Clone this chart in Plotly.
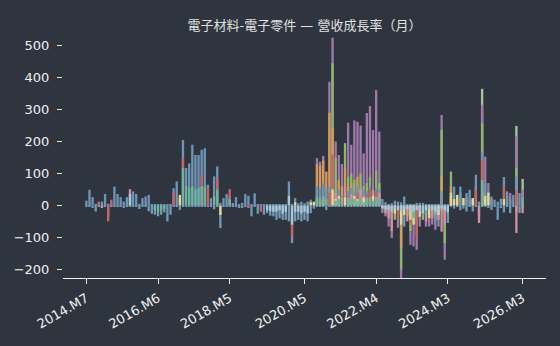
import plotly.graph_objects as go

# month categories 2014.M7 .. 2026.M3
months = []
y, m = 2014, 7
for _ in range(141):
    months.append(f"{y}.M{m}")
    m += 1
    if m > 12:
        m = 1
        y += 1

tick_labels = ["2014.M7", "2016.M6", "2018.M5", "2020.M5", "2022.M4", "2024.M3", "2026.M3"]
y_ticks = [-200, -100, 0, 100, 200, 300, 400, 500]

s_light = [
    0, 0, 0, 0, 0, 0, 0, 0, 0, 0,
    0, 0, 0, 0, 0, 0, 0, 0, 0, 0,
    0, 0, 0, 0, 0, 0, 0, 0, 0, 0,
    0, 0, 0, 0, 0, 0, 0, 0, 0, 0,
    0, 0, 0, 0, 0, 0, 0, 0, 0, 0,
    0, 0, 0, 0, 0, 0, 0, 0, 0, 0,
    0, 0, 0, 0, 0, 0, 0, 0, 0, 0,
    0, 0, 0, 0, 0, 0, 0, 0, 0, 0,
    0, 0, 0, 0, 0, 0, 0, 0, 0, 0,
    0, 0, 0, 0, 0, 0, 0, 0, 0, 0,
    0, 0, 0, 0, 0, 0, 0, 0, 0, 0,
    0, 0, 0, 0, 0, 0, 0, 0, 0, 0,
    0, 0, 0, 0, 0, 0, 0, 365, 0, 0,
    0, 0, 0, 0, 0, 0, 0, 0, 249, 0,
    83,
]
s_purple = [
    0, 0, 0, 0, 0, 0, 0, 0, 0, 0,
    0, 0, 0, 0, 0, 0, 0, 0, 0, 0,
    0, 0, 0, 0, 0, 0, 0, 0, 0, 0,
    0, 0, 0, 0, 0, 0, 0, 0, 0, 0,
    0, 0, 0, 0, 0, 0, 0, 0, 0, 0,
    0, 0, 0, 0, 0, 0, 0, 0, 0, 0,
    0, 0, 0, 0, 0, 0, 0, 0, 0, 0,
    0, 0, 0, 0, 148, 137, 155, 0, 387, 525,
    200, 158, 130, 0, 259, 190, 266, 262, 250, 163,
    289, 311, 236, 361, 231, -24, -34, -66, -102, 0,
    -70, -232, 0, 0, -123, -128, -139, -66, 0, -66,
    -66, -60, -76, 0, 283, -170, 0, 0, 30, 33,
    0, 0, 0, 20, 23, 60, 0, 315, 153, 70,
    0, 0, 0, 0, 0, 0, 39, 0, 216, 0,
    50,
]
s_green = [
    0, 0, 0, 0, 0, 0, 0, 0, 0, 0,
    0, 0, 0, 0, 0, 0, 0, 0, 0, 0,
    0, 0, 0, 0, 0, 0, 0, 0, 0, 0,
    0, 0, 0, 0, 0, 0, 0, 0, 0, 0,
    0, 0, 0, 0, 0, 0, 0, 0, 0, 0,
    0, 0, 0, 0, 0, 0, 0, 0, 0, 0,
    0, 0, 0, 0, 0, 0, 0, 0, 0, 0,
    0, 0, 0, 0, 0, 0, 0, 0, 0, 445,
    150, 0, 0, 195, 90, 100, 80, 60, 100, 60,
    70, 90, 50, 110, 70, 0, 0, 0, 0, -45,
    0, -200, 0, 0, -80, 0, -60, 0, -45, 0,
    0, 0, -40, 0, 236, -118, 0, 106, 0, 0,
    0, 0, 0, 0, 0, 0, 0, 257, 0, 0,
    0, 0, 0, 0, 0, 0, 0, 0, 117, 0,
    0,
]
s_orange = [
    0, 0, 0, 0, 0, 0, 0, 0, 0, 0,
    0, 0, 0, 0, 0, 0, 0, 0, 0, 0,
    0, 0, 0, 0, 0, 0, 0, 0, 0, 0,
    0, 0, 0, 0, 0, 0, 0, 0, 0, 0,
    0, 0, 0, 0, 0, 0, 0, 0, 0, 0,
    0, 0, 0, 0, 0, 0, 0, 0, 0, 0,
    0, 0, 0, 0, 0, 0, 0, 0, 0, 0,
    0, 0, 0, 0, 130, 125, 140, 106, 290, 240,
    0, 80, 60, 120, 60, 70, 0, 90, 50, 0,
    0, 40, 0, 0, 30, 0, 0, 0, 0, 0,
    0, -130, 0, -35, 0, 0, 0, 0, 0, 0,
    0, 0, 0, 0, 90, 0, 0, 60, 0, 0,
    40, 0, 25, 0, 0, 0, 0, 0, 0, 0,
    20, 0, 0, 0, 0, 30, 0, 0, 0, 0,
    0,
]
s_blue = [
    15, 49, 26, 5, 8, 12, 36, 5, 10, 59,
    36, 26, 12, 26, 40, 44, 36, 5, 23, 28,
    33, 4, 3, 3, 5, 3, 3, 3, 54, 75,
    20, 205, 117, 132, 190, 158, 158, 174, 179, 65,
    23, 91, 122, 8, 23, 36, 30, 8, 26, 3,
    8, 36, 30, 3, 38, 3, 3, 3, 3, 3,
    2, 3, 3, 3, 3, 75, 5, 23, 7, 12,
    7, 12, 18, 8, 60, 55, 70, 50, 60, 100,
    40, 50, 30, 60, 45, 55, 40, 60, 35, 50,
    45, 60, 40, 55, 50, 20, 10, 5, 7, 15,
    12, 10, 28, 5, 5, 3, 8, 8, 8, 3,
    3, 3, 3, 5, 45, 3, 3, 20, 59, 15,
    59, 23, 39, 49, 15, 96, 12, 169, 70, 40,
    28, 18, 12, 21, 89, 44, 20, 33, 91, 39,
    20,
]
s_blue_neg = [
    -3, -5, -8, -19, -5, -5, -5, -35, -3, -5,
    -5, -3, -8, -5, -3, -5, -3, -11, -3, -5,
    -18, -26, -29, -34, -29, -22, -50, -29, -5, -3,
    -14, -3, -3, -2, -2, -2, -2, -2, -3, -5,
    -5, -12, -5, -71, -5, -3, -5, -4, -5, -8,
    -8, -5, -8, -34, -5, -26, -12, -29, -24, -32,
    -34, -45, -40, -45, -45, -50, -118, -50, -45, -50,
    -45, -50, -24, -10, -3, -3, -3, -14, -5, -5,
    -3, -3, -3, -3, -3, -3, -3, -3, -3, -3,
    -3, -3, -3, -3, -3, -15, -20, -30, -40, -25,
    -30, -50, -66, -30, -40, -50, -40, -40, -30, -30,
    -40, -30, -50, -66, -20, -30, -55, -5, -10, -5,
    -15, -10, -19, -5, -19, -5, -30, -5, -5, -8,
    -14, -5, -45, -8, -22, -5, -24, -5, -20, -24,
    -10,
]
s_red = [
    0, 0, 0, 0, 12, 0, 0, -50, 18, 0,
    0, 0, 0, 0, 0, 0, 0, 0, 0, 0,
    0, 0, 0, 0, 0, 0, 0, 0, 40, 0,
    0, 148, 0, 0, 0, 0, 0, 96, 0, 55,
    0, 0, 85, 0, 0, 0, 51, 0, 0, 0,
    0, 0, -8, 0, 0, 0, -20, 0, 0, 0,
    0, 0, 0, 0, 0, 0, -97, 0, 0, 0,
    0, 0, 0, 0, 0, 0, 0, 0, 40, 160,
    0, 0, 0, 0, 30, 0, 0, 40, 0, 0,
    35, 50, 0, 45, 0, 0, 0, 0, 0, 0,
    -40, 0, 0, 0, -60, 0, -100, 0, 0, 0,
    -45, 0, 0, 0, 0, 0, 0, 0, 0, 0,
    0, 0, 0, 0, 0, 50, 0, 143, 0, 0,
    0, 0, 0, 0, 60, 0, 0, 0, 49, 0,
    0,
]
s_pink = [
    0, 0, 0, 0, 0, -8, 0, 0, 0, 0,
    0, 0, 0, 0, 51, 0, 0, 0, 0, 0,
    0, 0, 0, 0, 0, 0, 0, 0, 0, 0,
    0, 0, 0, 0, 0, 0, 0, 0, 0, 0,
    0, 0, 0, 0, 0, 0, 0, 0, 0, 0,
    0, 0, 0, 0, 0, 0, 0, 0, 0, 0,
    0, 0, 0, 0, 0, 0, 0, 0, 0, 0,
    0, 0, 0, 0, 0, 0, 0, 0, 0, 0,
    40, 0, 25, 60, 0, 35, 0, 0, 50, 30,
    0, 25, 45, 0, 40, -10, -25, -40, -80, 0,
    0, 0, 0, -50, 0, 0, 0, 0, 0, -50,
    0, -40, 0, -45, -82, -60, 0, 30, 0, 0,
    0, 0, 0, 0, 0, 0, -55, 0, 0, 0,
    0, 0, 0, 0, 0, 0, 0, 0, -86, 0,
    -24,
]
s_yellow = [
    0, 0, 0, 0, 0, 0, 0, 0, 0, 0,
    0, 0, 0, 0, 0, 0, 0, 0, 0, 0,
    0, 0, 0, 0, 0, 0, 0, 0, 0, 0,
    33, 0, 0, 0, 0, 0, 0, 0, 0, 0,
    0, 0, 0, -30, 0, 0, 0, 0, 0, 0,
    0, 0, 0, 0, 0, 0, 0, 0, 0, 0,
    0, 0, 0, 0, 0, 0, 0, 10, 0, 0,
    0, 0, 10, 12, 20, 15, 25, 0, 0, 50,
    20, 30, 0, 25, 20, 0, 30, 20, 0, 25,
    20, 0, 30, 25, 0, 0, 0, 0, 0, -25,
    0, -60, -30, 0, -45, -60, 0, -35, 0, 0,
    -40, 0, 0, -30, 0, 0, 0, 40, 20, 33,
    0, 23, 0, 0, 23, 0, 0, 40, 30, 40,
    0, 0, 0, 0, 20, 0, 0, 0, 0, 0,
    0,
]
s_teal = [
    0, 0, 0, 0, 0, 0, 0, 0, 0, 0,
    0, 0, 0, 0, 0, 0, 0, 0, 0, 0,
    0, 0, -15, -20, -15, -10, 0, 0, 0, 0,
    0, 117, 60, 55, 60, 50, 55, 60, 60, 0,
    0, 30, 50, 0, 0, 0, 20, 0, 0, 0,
    0, 0, 0, 0, 0, 0, 0, 0, 0, 0,
    0, 0, 0, 0, 0, 0, 0, 0, 0, 0,
    0, 0, 0, 0, 30, 25, 30, 20, 0, 0,
    15, 20, 10, 0, 25, 20, 20, 15, 25, 10,
    25, 20, 15, 25, 20, 0, 0, 0, 0, 0,
    0, 0, 0, 0, 0, -40, 0, 0, 0, -30,
    0, 0, -30, 0, 0, 0, -25, 0, 0, 0,
    0, 0, 0, 0, 0, 0, 0, 80, 0, 0,
    0, 0, 0, 0, 0, 0, 0, 0, 0, 0,
    25,
]
s_cyan = [
    0, 0, 0, 0, 0, 0, 0, 0, 0, 0,
    0, 0, 0, 0, 35, 0, 0, 0, 0, 0,
    0, 0, 0, 0, 0, 0, 0, 0, 0, 0,
    0, 0, 0, 0, 0, 0, 0, 0, 0, 0,
    0, 0, 0, 0, 0, 0, 0, 0, 0, 0,
    0, 0, 0, 0, 0, 0, 0, 0, -15, -18,
    -20, -20, -15, -25, -20, 30, -60, -20, -20, -25,
    -20, -25, 0, 0, 0, 0, 0, 0, 0, 0,
    0, 0, 0, 0, 0, 0, 0, 0, 0, 0,
    0, 0, 0, 0, 0, -8, -12, -15, -20, -10,
    -15, -20, -12, -12, -18, -20, -15, -20, -25, -15,
    -12, -15, -20, -18, -10, -15, -20, 0, 0, 0,
    0, 0, 0, 0, 0, 0, 0, 0, 0, 0,
    0, 0, 0, 0, 0, 0, 0, 0, 0, 0,
    0,
]

series = [
    (s_light, "#a9c29b"),
    (s_purple, "#9f79a9"),
    (s_green, "#8fb56c"),
    (s_orange, "#d49a5a"),
    (s_blue, "#6f95b6"),
    (s_blue_neg, "#7298b5"),
    (s_red, "#c66560"),
    (s_pink, "#d3909e"),
    (s_yellow, "#e2d896"),
    (s_teal, "#6fb3a0"),
    (s_cyan, "#a9c9d6"),
]

BG = "#2f353f"
fig = go.Figure()
for vals, col in series:
    fig.add_trace(go.Bar(x=months, y=vals, marker_color=col, marker_line_width=0,
                         showlegend=False, hoverinfo="skip"))

fig.update_layout(
    width=560, height=346,
    margin=dict(l=63, r=14, t=30, b=68),
    paper_bgcolor=BG, plot_bgcolor=BG,
    barmode="overlay", bargap=0.25,
    font=dict(family="DejaVu Sans, Noto Sans CJK TC", size=13, color="#f0f0f0"),
    title=dict(text="電子材料-電子零件 — 營收成長率（月）", x=0.5, xref="paper",
               y=1 - 25 / 346, yanchor="middle",
               font=dict(size=13, color="#e0e0e0", family="DejaVu Sans, Noto Sans CJK TC")),
)
fig.update_xaxes(type="category", categoryorder="array", categoryarray=months,
                 tickmode="array", tickvals=tick_labels, ticktext=tick_labels,
                 tickangle=-30, ticks="outside", ticklen=5, tickcolor="#f0f0f0",
                 tickfont=dict(size=13), ticklabelstandoff=2,
                 showline=True, linecolor="#f0f0f0", linewidth=1,
                 showgrid=False, zeroline=False, range=[-7.5, 147.5])
fig.update_yaxes(range=[-227, 549], tickmode="array", tickvals=y_ticks,
                 ticks="outside", ticklen=5, tickcolor="#f0f0f0",
                 tickfont=dict(size=13), ticklabelstandoff=5,
                 showline=False, showgrid=False, zeroline=False)

fig.write_html("out.html")
